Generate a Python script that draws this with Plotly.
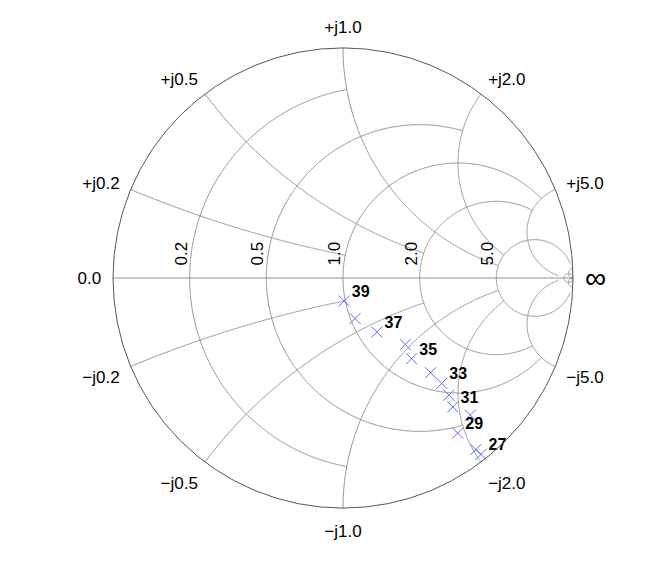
import numpy as np
import plotly.graph_objects as go

# measured points (normalised impedance), numbered 27..39
point_ids = list(range(27, 40))
z_real = [0.07, 0.15, 0.42, 0.61, 0.78, 0.96, 1.13, 1.24, 1.28, 1.37, 1.18, 1.04, 0.99]
z_imag = [-2.05, -2.03, -1.91, -2.15, -1.91, -1.85, -1.71, -1.49, -1.14, -0.94, -0.60, -0.38, -0.20]
point_labels = ["\u00a0\u2009" + str(i) if i % 2 == 1 else "" for i in point_ids]

# grid: circle value and the value where it stops
grid_vals = [0.2, 0.5, 1.0, 2.0, 5.0, 50.0]
grid_stop = [1.0, 2.0, 5.0, 5.0, 30.0, 1e4]
tick_vals = [0.2, 0.5, 1.0, 2.0, 5.0]
imag_ticks = [-5.0, -2.0, -1.0, -0.5, -0.2, 0.0, 0.2, 0.5, 1.0, 2.0, 5.0]

FONT = "Liberation Sans, Arial, sans-serif"
GRID = "#8f8f8f"
CLEAR = "rgba(0,0,0,0)"

# tick label text like "+j1.0" / "−j1.0"
imag_alias = {}
for v in imag_ticks:
    s = f"{abs(v):.1f}"
    if v > 0:
        imag_alias[s] = "+j" + s
    elif v < 0:
        imag_alias["−" + s] = "−j" + s
        imag_alias["-" + s] = "−j" + s

# real labels: big text on a small base font, so the empty 2nd line
# nudges the rotated label just left of its circle
real_alias = {f"{v:.1f}": f"<span style='font-size:17px'>{v:.1f}</span><br>\u00a0" for v in tick_vals}

fig = go.Figure()

# resistance circles (truncated)
for r, lim in zip(grid_vals, grid_stop):
    im = np.sinh(np.linspace(-np.arcsinh(lim), np.arcsinh(lim), 600))
    fig.add_trace(go.Scattersmith(real=np.full_like(im, r), imag=im, mode="lines",
                                  line=dict(color=GRID, width=1), hoverinfo="skip", showlegend=False))

# reactance arcs (truncated)
for x, lim in zip(grid_vals, grid_stop):
    re = np.sinh(np.linspace(0, np.arcsinh(lim), 400))
    for sgn in (1, -1):
        fig.add_trace(go.Scattersmith(real=re, imag=np.full_like(re, sgn * x), mode="lines",
                                      line=dict(color=GRID, width=1), hoverinfo="skip", showlegend=False))

# real axis line
re_axis = np.concatenate([[0], np.geomspace(1e-3, 1e6, 50)])
fig.add_trace(go.Scattersmith(real=re_axis, imag=np.zeros_like(re_axis), mode="lines",
                              line=dict(color=GRID, width=1), hoverinfo="skip", showlegend=False))

# data markers
fig.add_trace(go.Scattersmith(
    real=z_real, imag=z_imag, mode="markers",
    marker=dict(symbol="x-thin", size=11, color="#5a6eff", line=dict(width=1, color="#5a6eff")),
    showlegend=False,
))
# point numbers
fig.add_trace(go.Scattersmith(
    real=z_real, imag=z_imag, mode="text", text=point_labels,
    textposition="top right",
    textfont=dict(family=FONT, size=16, color="black", weight="bold"),
    hoverinfo="skip", showlegend=False,
))

fig.update_layout(
    width=664, height=574,
    margin=dict(l=105, r=99, t=40, b=74),
    paper_bgcolor="white",
    font=dict(family=FONT, size=11, color="black"),
    smith=dict(
        domain=dict(x=[0, 1], y=[0, 1]),
        bgcolor="white",
        realaxis=dict(tickvals=tick_vals, tickformat=".1f", tickangle=-90, labelalias=real_alias,
                      showgrid=False, showline=False, ticks="top", ticklen=12, tickcolor=CLEAR,
                      tickfont=dict(family=FONT, size=9, color="black")),
        imaginaryaxis=dict(tickvals=imag_ticks, tickformat=".1f", labelalias=imag_alias,
                           showgrid=False, showline=True, ticks="outside", ticklen=8, tickcolor=CLEAR,
                           linecolor="#555555", linewidth=1,
                           tickfont=dict(family=FONT, size=17, color="black")),
    ),
)

fig.write_html("out.html")
